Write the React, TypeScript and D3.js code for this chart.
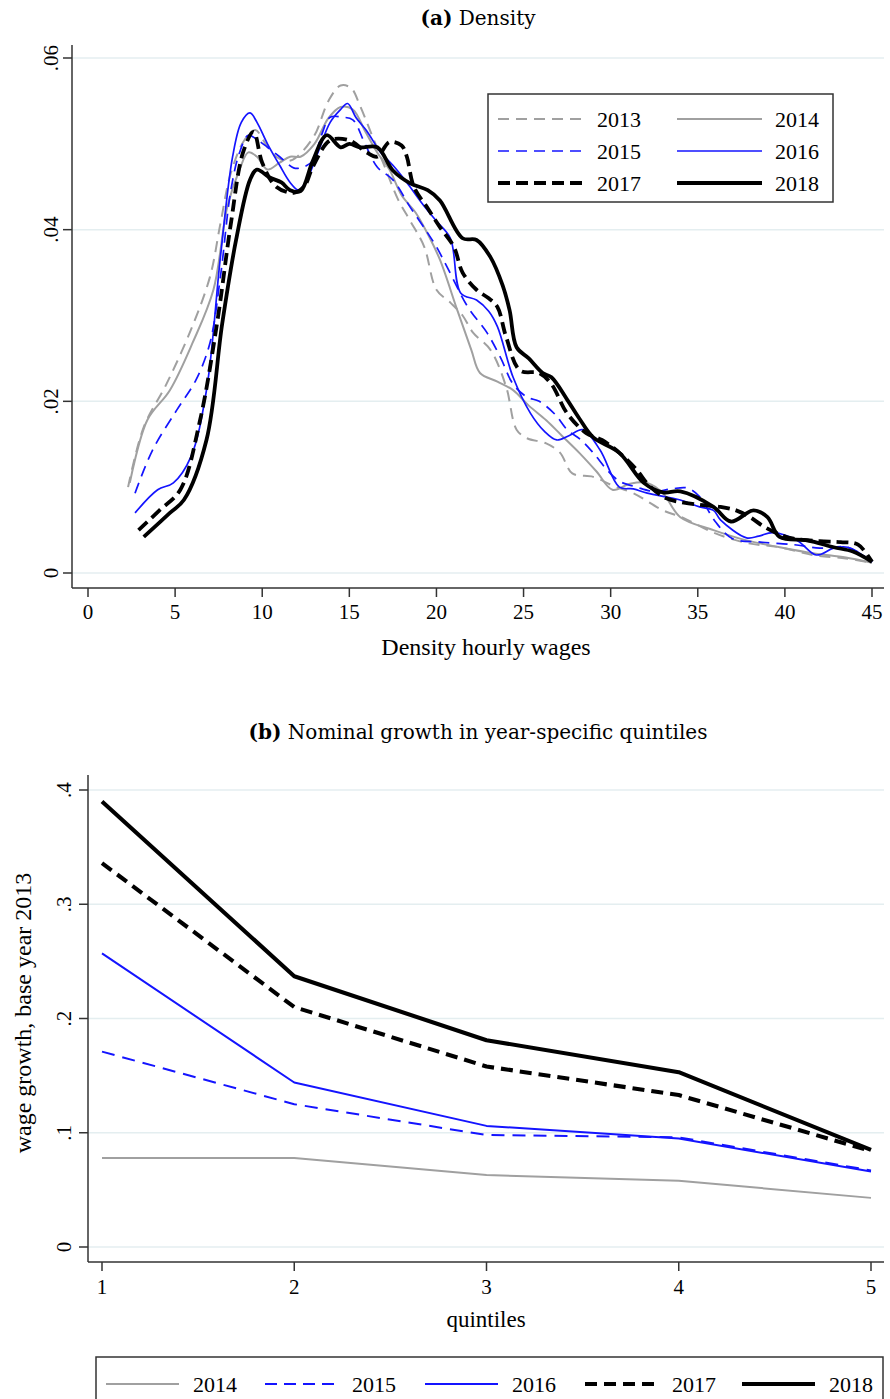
import React from 'react';
import * as d3 from 'd3';

// panel (a): kernel density of hourly wages, [wage, density]
const dens2013: [number, number][] = [
  [2.3, .0100], [3.2, .0170], [4.5, .0220], [5.9, .0283], [7, .0345], [7.6, .0407], [8.2, .0466], [9, .0505],
  [9.6, .0516], [10.2, .0500], [10.8, .0485], [11.5, .0480], [12, .0485], [13, .0510], [13.8, .0550], [14.5, .0568],
  [15.1, .0565], [15.6, .0545], [16.3, .0510], [17, .0475], [17.8, .0435], [18.5, .0410], [19.3, .0380], [20, .0330],
  [20.8, .0315], [21.5, .0300], [22.1, .0280], [23.1, .0260], [24, .0217], [24.6, .0167], [25.2, .0157], [26.3, .0151],
  [27.1, .0140], [27.8, .0116], [29, .0112], [30.1, .0102], [31.3, .0093], [33, .0073], [34.2, .0064], [35.9, .0047],
  [37.8, .0035], [39.7, .0030], [41.6, .0021], [43.5, .0017], [45, .0012],
];
const dens2014: [number, number][] = [
  [2.4, .0105], [3.4, .0178], [4.7, .0213], [6, .0268], [7.2, .0330], [8, .0427], [8.7, .0470], [9.2, .0490],
  [9.7, .0485], [10.3, .0470], [11, .0478], [11.6, .0485], [12.2, .0485], [13, .0500], [13.8, .0530], [14.5, .0543],
  [15.2, .0540], [15.9, .0515], [16.6, .0490], [17.3, .0470], [18, .0440], [18.8, .0420], [19.5, .0395], [20.2, .0365],
  [21.2, .0306], [22, .0260], [22.5, .0233], [23.5, .0223], [24.4, .0213], [25.3, .0195], [26.3, .0178], [27.2, .0160],
  [28.2, .0140], [29.2, .0118], [30.1, .0097], [31.1, .0104], [32.1, .0105], [33, .0093], [34, .0065], [35.9, .0050],
  [37.8, .0038], [39.7, .0030], [41.6, .0023], [43.5, .0018], [45, .0012],
];
const dens2015: [number, number][] = [
  [2.7, .0093], [3.7, .0143], [5.1, .0190], [6.2, .0225], [7, .0268], [7.6, .0345], [8.2, .0446], [8.7, .0490],
  [9.2, .0510], [9.7, .0505], [10.3, .0496], [11, .0485], [11.8, .0472], [12.2, .0472], [12.9, .0480], [13.4, .0510],
  [13.9, .0531], [14.6, .0531], [15.2, .0528], [15.9, .0500], [16.6, .0473], [17.5, .0458], [18.5, .0426], [19.5, .0396],
  [20, .0380], [20.6, .0357], [21.8, .0310], [22.9, .0280], [23.7, .0250], [24.4, .0220], [25.2, .0205], [25.9, .0200],
  [26.8, .0185], [27.5, .0167], [28.3, .0155], [29, .0140], [29.8, .0120], [30.5, .0107], [31.5, .0100], [32.5, .0095],
  [33.5, .0098], [34.4, .0099], [35.1, .0089], [36, .0060], [37, .0040], [38.6, .0036], [40.5, .0033], [42, .0029],
  [43.6, .0030], [45, .0013],
];
const dens2016: [number, number][] = [
  [2.7, .0070], [4, .0097], [4.9, .0105], [5.9, .0135], [6.8, .0213], [7.6, .0368], [8.3, .0485], [8.8, .0525],
  [9.3, .0536], [9.7, .0525], [10.3, .0500], [11, .0475], [11.6, .0455], [12.1, .0446], [12.6, .0460], [13.2, .0490],
  [13.9, .0525], [14.5, .0540], [14.9, .0547], [15.4, .0530], [16, .0515], [16.8, .0490], [17.5, .0475], [18.3, .0455],
  [19.2, .0430], [20, .0410], [20.8, .0390], [21.4, .0326], [22.3, .0318], [23, .0305], [23.5, .0287], [24.4, .0228],
  [25.4, .0186], [26.2, .0165], [26.9, .0155], [27.6, .0160], [28.4, .0167], [29.4, .0143], [30.5, .0100], [31.3, .0098],
  [32.1, .0093], [34, .0085], [35.1, .0077], [35.9, .0073], [36.3, .0062], [37.8, .0041], [38.5, .0043], [39.3, .0047],
  [40.7, .0038], [41.8, .0021], [42.8, .0029], [43.6, .0030], [45, .0013],
];
const dens2017: [number, number][] = [
  [2.9, .0050], [4.1, .0073], [5.3, .0097], [6.4, .0175], [7.4, .0290], [8.2, .0407], [8.9, .0490], [9.5, .0514],
  [10, .0478], [10.8, .0450], [11.8, .0443], [12.4, .0450], [12.9, .0473], [13.9, .0504], [15, .0504], [16, .0490],
  [16.6, .0485], [17.3, .0502], [18, .0498], [18.3, .0485], [18.7, .0450], [19.5, .0425], [20.2, .0403], [21, .0380],
  [21.5, .0350], [22.3, .0330], [23, .0320], [23.5, .0310], [24, .0275], [24.8, .0236], [25.9, .0233], [26.6, .0220],
  [27.5, .0186], [28.6, .0163], [29.5, .0155], [30.5, .0140], [31.5, .0120], [32.2, .0102], [33.2, .0087], [34.2, .0082],
  [35.3, .0079], [36.3, .0077], [37.2, .0073], [38, .0065], [38.8, .0054], [39.7, .0045], [40.5, .0040], [42, .0037],
  [43.2, .0036], [44.2, .0033], [45, .0013],
];
const dens2018: [number, number][] = [
  [3.2, .0042], [4.7, .0070], [5.5, .0085], [6.8, .0155], [7.7, .0290], [8.5, .0388], [9.3, .0458], [9.7, .0470],
  [10.4, .0461], [11.1, .0455], [11.6, .0446], [12.2, .0445], [12.9, .0480], [13.7, .0510], [14.5, .0496], [15, .0500],
  [15.6, .0496], [16.6, .0496], [17.5, .0469], [18.5, .0454], [19.5, .0446], [20.2, .0434], [21.5, .0390], [22.3, .0388],
  [23.1, .0368], [23.8, .0335], [24.2, .0306], [24.6, .0263], [25.3, .0250], [26.1, .0233], [26.6, .0228], [27.5, .0202],
  [28.2, .0180], [29, .0158], [30.5, .0140], [31.9, .0105], [33, .0094], [34, .0095], [35.9, .0077], [36.9, .0060],
  [38.2, .0073], [39, .0065], [39.7, .0042], [41.3, .0038], [42.8, .0030], [43.9, .0025], [45, .0013],
];

// panel (b): nominal growth by quintile
const quintiles = [1, 2, 3, 4, 5];
const growth2014 = [.078, .078, .063, .058, .043];
const growth2015 = [.171, .125, .098, .096, .067];
const growth2016 = [.257, .144, .106, .095, .066];
const growth2017 = [.336, .210, .158, .133, .084];
const growth2018 = [.390, .237, .181, .153, .085];

const wageTicks = [0, 5, 10, 15, 20, 25, 30, 35, 40, 45];
const densTicks = [0, .02, .04, .06];
const growthTicks = [0, .1, .2, .3, .4];

const GRAY = '#a0a0a0';
const BLUE = '#1414ff';
const FONT = '"Liberation Serif", "Times New Roman", serif';
const TITLE_FONT = '"DejaVu Serif", serif';
const GRID = '#e4eef0';
const AXIS = '#333';

const styles: Record<string, { color: string; width: number; dash?: string }> = {
  '2013': { color: GRAY, width: 2, dash: '11,7' },
  '2014': { color: GRAY, width: 2 },
  '2015': { color: BLUE, width: 1.7, dash: '11,7' },
  '2016': { color: BLUE, width: 1.7 },
  '2017': { color: '#000', width: 3.8, dash: '12,6' },
  '2018': { color: '#000', width: 3.8 },
};

const densSeries = [
  { year: '2013', pts: dens2013 },
  { year: '2014', pts: dens2014 },
  { year: '2015', pts: dens2015 },
  { year: '2016', pts: dens2016 },
  { year: '2017', pts: dens2017 },
  { year: '2018', pts: dens2018 },
];
const growthSeries = [
  { year: '2014', vals: growth2014 },
  { year: '2015', vals: growth2015 },
  { year: '2016', vals: growth2016 },
  { year: '2017', vals: growth2017 },
  { year: '2018', vals: growth2018 },
];

const fmt = (v: number) => (v === 0 ? '0' : d3.format('.2f')(v).replace(/^0/, '').replace(/0$/, ''));

export default function App() {
  // panel (a) scales
  const xA = d3.scaleLinear().domain([0, 45]).range([88, 872]);
  const yA = d3.scaleLinear().domain([0, 0.06]).range([573, 58]);
  // panel (b) scales
  const xB = d3.scaleLinear().domain([1, 5]).range([102, 871]);
  const yB = d3.scaleLinear().domain([0, 0.4]).range([1247, 790]);

  const lineA = d3.line<[number, number]>()
    .x(d => xA(d[0]))
    .y(d => yA(d[1]))
    .curve(d3.curveCatmullRom.alpha(0.5));
  const lineB = d3.line<number>()
    .x((_, i) => xB(quintiles[i]))
    .y(d => yB(d));

  const legA = [['2013', '2014'], ['2015', '2016'], ['2017', '2018']];
  const legB = ['2014', '2015', '2016', '2017', '2018'];
  const legBx = [106, 265, 425, 585, 742];

  return (
    <svg width={890} height={1399} style={{ position: 'absolute', left: 0, top: 0, background: '#fff' }}
      fontFamily={FONT}>
      <rect width={890} height={1399} fill="#fff" />

      {/* ---------- (a) Density ---------- */}
      <text x={478} y={25} textAnchor="middle" fontSize={20} fontFamily={TITLE_FONT}>
        <tspan fontWeight="bold">(a)</tspan> Density
      </text>
      {densTicks.map(t => (
        <g key={'ga' + t}>
          <line x1={72} x2={884} y1={yA(t)} y2={yA(t)} stroke={GRID} strokeWidth={1.5} />
          <line x1={63} x2={72} y1={yA(t)} y2={yA(t)} stroke={AXIS} strokeWidth={1.5} />
          <text transform={`translate(${51},${yA(t)}) rotate(-90)`} textAnchor="middle" dy="0.35em" fontSize={21}>
            {fmt(t)}
          </text>
        </g>
      ))}
      {densSeries.map(s => (
        <path key={'a' + s.year} d={lineA(s.pts) ?? ''} fill="none" stroke={styles[s.year].color}
          strokeWidth={styles[s.year].width} strokeDasharray={styles[s.year].dash} strokeLinejoin="round" />
      ))}
      <line x1={72} x2={72} y1={45} y2={588} stroke={AXIS} strokeWidth={1.5} />
      <line x1={72} x2={884} y1={588} y2={588} stroke={AXIS} strokeWidth={1.5} />
      {wageTicks.map(t => (
        <g key={'xa' + t}>
          <line x1={xA(t)} x2={xA(t)} y1={588} y2={597} stroke={AXIS} strokeWidth={1.5} />
          <text x={xA(t)} y={619} textAnchor="middle" fontSize={21}>{t}</text>
        </g>
      ))}
      <text x={486} y={655} textAnchor="middle" fontSize={24}>Density hourly wages</text>

      <rect x={488} y={94} width={345} height={108} fill="#fff" stroke={AXIS} strokeWidth={1.5} />
      {legA.map((row, r) => row.map((yr, c) => {
        const y = 119 + r * 32;
        const x0 = c === 0 ? 498 : 677;
        const st = styles[yr];
        return (
          <g key={'la' + yr}>
            <line x1={x0} x2={x0 + 85} y1={y} y2={y} stroke={st.color} strokeWidth={st.width}
              strokeDasharray={st.dash} />
            <text x={c === 0 ? 597 : 775} y={y} dy="0.35em" fontSize={22}>{yr}</text>
          </g>
        );
      }))}

      {/* ---------- (b) Nominal growth ---------- */}
      <text x={478} y={739} textAnchor="middle" fontSize={20} fontFamily={TITLE_FONT}>
        <tspan fontWeight="bold">(b)</tspan> Nominal growth in year-specific quintiles
      </text>
      {growthTicks.map(t => (
        <g key={'gb' + t}>
          <line x1={88} x2={884} y1={yB(t)} y2={yB(t)} stroke={GRID} strokeWidth={1.5} />
          <line x1={79} x2={88} y1={yB(t)} y2={yB(t)} stroke={AXIS} strokeWidth={1.5} />
          <text transform={`translate(${64},${yB(t)}) rotate(-90)`} textAnchor="middle" dy="0.35em" fontSize={21}>
            {fmt(t)}
          </text>
        </g>
      ))}
      {growthSeries.map(s => (
        <path key={'b' + s.year} d={lineB(s.vals) ?? ''} fill="none" stroke={styles[s.year].color}
          strokeWidth={s.year === '2014' ? 2 : styles[s.year].width + 0.3}
          strokeDasharray={styles[s.year].dash ? (s.year === '2015' ? '13,8' : '12,7') : undefined}
          strokeLinejoin="round" />
      ))}
      <line x1={88} x2={88} y1={775} y2={1262} stroke={AXIS} strokeWidth={1.5} />
      <line x1={88} x2={884} y1={1262} y2={1262} stroke={AXIS} strokeWidth={1.5} />
      {quintiles.map(q => (
        <g key={'xb' + q}>
          <line x1={xB(q)} x2={xB(q)} y1={1262} y2={1271} stroke={AXIS} strokeWidth={1.5} />
          <text x={xB(q)} y={1294} textAnchor="middle" fontSize={21}>{q}</text>
        </g>
      ))}
      <text x={486} y={1327} textAnchor="middle" fontSize={23}>quintiles</text>
      <text transform={`translate(23,${1013}) rotate(-90)`} textAnchor="middle" dy="0.35em" fontSize={24}>
        wage growth, base year 2013
      </text>

      <rect x={96} y={1357} width={787} height={70} fill="#fff" stroke={AXIS} strokeWidth={1.5} />
      {legB.map((yr, i) => {
        const st = styles[yr];
        const x0 = legBx[i];
        return (
          <g key={'lb' + yr}>
            <line x1={x0} x2={x0 + 73} y1={1384} y2={1384} stroke={st.color}
              strokeWidth={yr === '2014' ? 2 : st.width + 0.3}
              strokeDasharray={st.dash ? '12,7' : undefined} />
            <text x={x0 + 87} y={1384} dy="0.35em" fontSize={22}>{yr}</text>
          </g>
        );
      })}
    </svg>
  );
}
